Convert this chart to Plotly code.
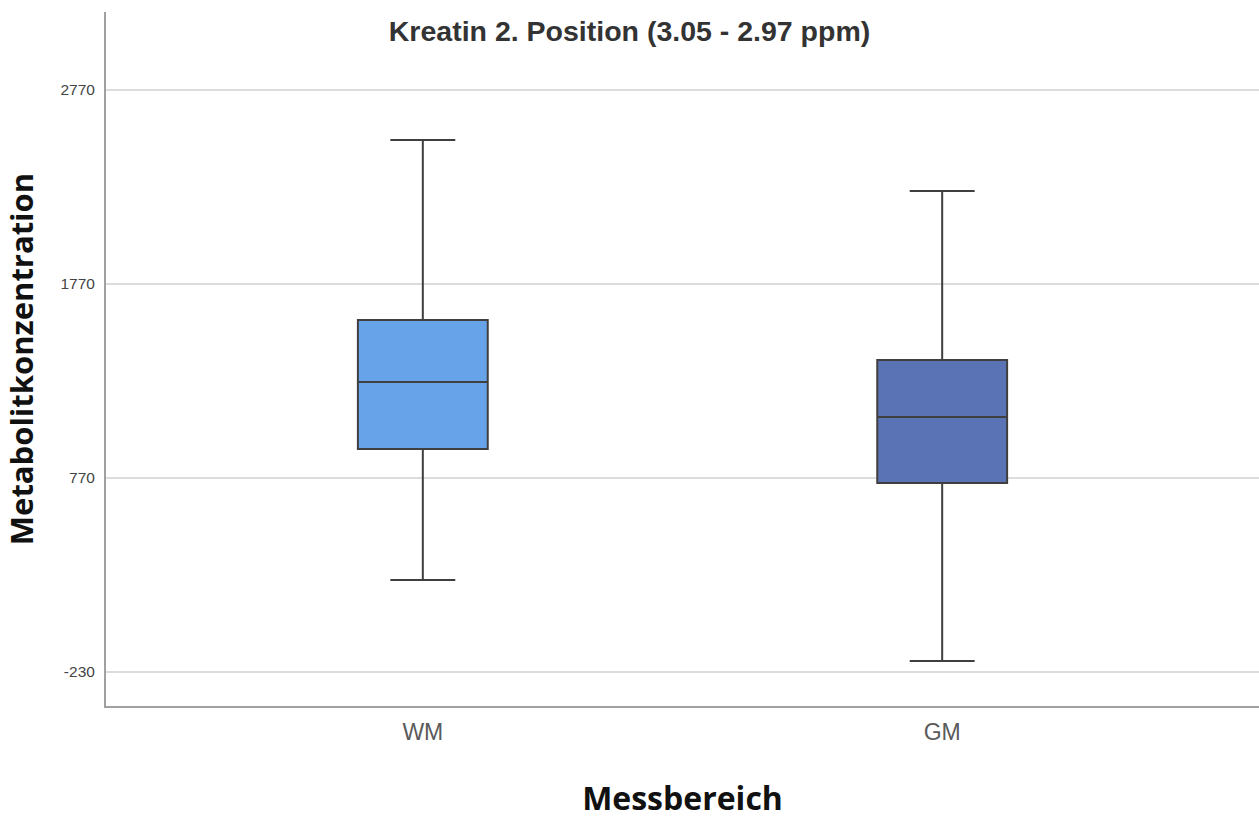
import plotly.graph_objects as go

categories = ["WM", "GM"]
lower_whisker = [244, -173]
q1_values = [919, 744]
median_values = [1265, 1084]
q3_values = [1584, 1378]
upper_whisker = [2512, 2249]
box_colors = ["#67A3E8", "#5A73B5"]
y_ticks = [-230, 770, 1770, 2770]

fig = go.Figure()
for i, cat in enumerate(categories):
    fig.add_trace(go.Box(
        x=[cat],
        q1=[q1_values[i]],
        median=[median_values[i]],
        q3=[q3_values[i]],
        lowerfence=[lower_whisker[i]],
        upperfence=[upper_whisker[i]],
        fillcolor=box_colors[i],
        line=dict(color="#3f3f3f", width=2),
        width=0.25,
        whiskerwidth=0.5,
        boxpoints=False,
        showlegend=False,
        hoverinfo="y",
    ))

fig.update_layout(
    width=1259, height=819,
    margin=dict(l=106, r=0, t=12, b=113),
    paper_bgcolor="white", plot_bgcolor="white",
    title=dict(
        text="<b>Kreatin 2. Position (3.05 - 2.97 ppm)</b>",
        x=0.5, xanchor="center", yref="container", y=1 - 31 / 819, yanchor="middle",
        font=dict(family="Liberation Sans, Arial, sans-serif", size=28.5, color="#333"),
    ),
    xaxis=dict(
        type="category", automargin=False,
        categoryorder="array", categoryarray=categories,
        range=[-0.61, 1.61],
        showline=True, linecolor="#a0a0a0", linewidth=2,
        showgrid=False, ticks="", ticklabelstandoff=4,
        tickfont=dict(family="Liberation Sans, Arial, sans-serif", size=23, color="#5a5a5a"),
        title=dict(text="<b>Messbereich</b>", standoff=57,
                   font=dict(family="Open Sans, sans-serif", size=32, color="#111")),
    ),
    yaxis=dict(
        automargin=False,
        range=[-405, 3172],
        tickvals=y_ticks, ticktext=[str(v) for v in y_ticks],
        showline=True, linecolor="#a0a0a0", linewidth=2,
        showgrid=True, gridcolor="#dcdcdc", gridwidth=2,
        zeroline=False, ticks="", ticklabelstandoff=6,
        tickfont=dict(family="Liberation Sans, Arial, sans-serif", size=15.5, color="#444"),
        title=dict(text="<b>Metabolitkonzentration</b>", standoff=19,
                   font=dict(family="Open Sans, sans-serif", size=31, color="#111")),
    ),
)

fig.write_html(
    "out.html",
    config={"displayModeBar": False},
    post_script="document.body.style.margin='0';document.body.style.overflow='hidden';",
)
